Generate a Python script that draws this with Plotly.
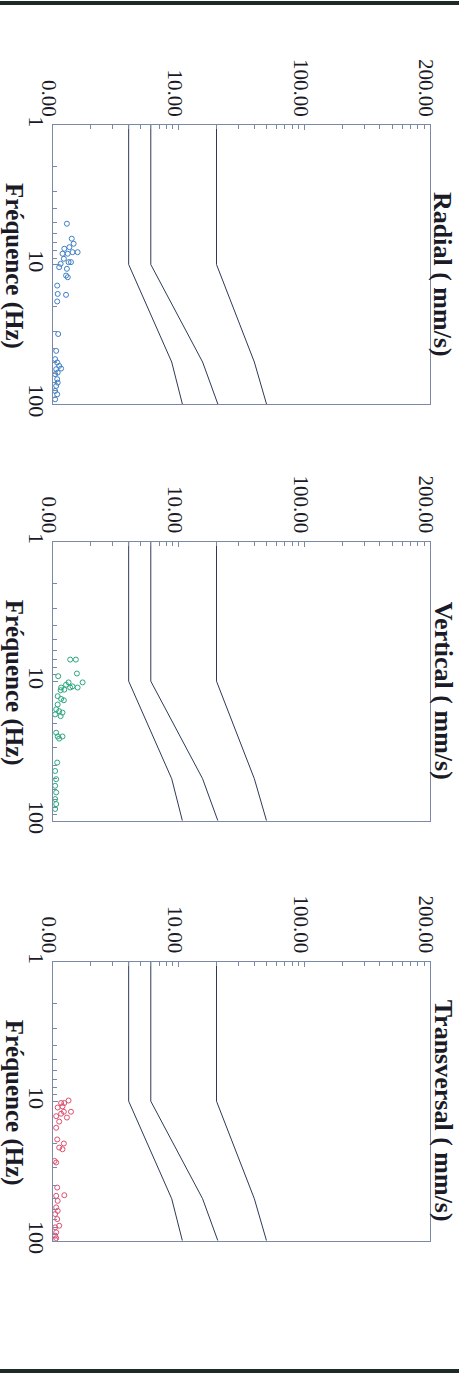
import plotly.graph_objects as go

# ---------------- data ----------------
panel_titles = ["Radial ( mm/s)", "Vertical ( mm/s)", "Transversal ( mm/s)"]
x_label = "Fréquence (Hz)"

vel_tickvals = [1, 10, 100, 1000]
vel_ticktext = ["0.00", "10.00", "100.00", "200.00"]
freq_tickvals = [1, 10, 100]
freq_ticktext = ["1", "10", "100"]

# limit curves (frequency Hz, velocity)
limit_freq = [1, 10, 50, 100]
limit_low = [4, 4, 8.8, 10.7]
limit_mid = [6, 6, 15.5, 20.5]
limit_high = [20, 20, 40, 50]

radial_vel = [1.29, 1.41, 1.46, 1.35, 1.23, 1.57, 1.19, 1.31, 1.43, 1.22, 1.15, 1.33,
              1.39, 1.12, 1.29, 1.27, 1.31, 1.08, 1.09, 1.27, 1.08, 1.10, 1.06, 1.04,
              1.08, 1.12, 1.16, 1.06, 1.09, 1.04, 1.08, 1.09, 1.06, 1.04, 1.08, 1.04]
radial_freq = [5.10, 6.53, 7.10, 7.51, 7.71, 8.16, 8.37, 8.37, 8.16, 9.10, 9.89, 9.62,
               9.62, 10.45, 10.74, 12.0, 12.34, 14.16, 16.25, 16.5, 18.4, 31.5, 41.6, 47.7,
               50.4, 53.3, 55.7, 56.3, 59.5, 61.1, 66.4, 70.3, 74.2, 80.6, 85.2, 92.5]

vertical_vel = [1.37, 1.52, 1.55, 1.10, 1.72, 1.33, 1.27, 1.43, 1.16, 1.37, 1.57, 1.15,
                1.23, 1.09, 1.16, 1.22, 1.09, 1.06, 1.12, 1.19, 1.04, 1.15, 1.06, 1.09,
                1.19, 1.12, 1.08, 1.04, 1.06, 1.04, 1.06, 1.04, 1.06, 1.04]
vertical_freq = [7.0, 7.0, 8.81, 9.21, 10.2, 10.2, 10.6, 10.9, 11.1, 11.1, 11.1, 11.6,
                 11.5, 12.8, 13.4, 13.7, 14.7, 15.9, 16.4, 16.8, 17.3, 17.8, 23.4, 24.9,
                 24.9, 25.8, 38.3, 44.0, 50.4, 56.2, 62.7, 70.0, 76.0, 82.4]

transversal_vel = [1.33, 1.23, 1.16, 1.19, 1.09, 1.39, 1.22, 1.16, 1.06, 1.29, 1.12, 1.06,
                   1.08, 1.22, 1.12, 1.19, 1.03, 1.06, 1.08, 1.23, 1.06, 1.09, 1.06, 1.09,
                   1.04, 1.12, 1.04, 1.06, 1.04, 1.08, 1.06, 1.04]
transversal_freq = [9.89, 10.3, 10.3, 10.9, 11.1, 11.9, 11.9, 12.3, 12.8, 13.1, 14.0, 15.5,
                    18.8, 20.1, 21.5, 22.1, 26.8, 27.5, 41.6, 47.2, 47.7, 51.8, 57.7, 61.1,
                    64.4, 78.1, 80.2, 87.1, 92.0, 70.0, 96.0, 98.0]

point_colors = ["#3f80c4", "#2aa87c", "#dd4f6c"]

# ---------------- layout geometry (pixels) ----------------
W, H = 459, 1376
plot_left, plot_right = 53, 430
panel_tops = [125, 541.7, 961.7]
panel_h = 279

def py(v):
    return 1 - v / H

fig = go.Figure()

series = [(radial_vel, radial_freq), (vertical_vel, vertical_freq),
          (transversal_vel, transversal_freq)]

line_col = "#2c3a58"
axis_col = "#7b88a6"
font_fam = "Liberation Serif"
text_col = "#1b1b28"

for i in range(3):
    xa = "x" if i == 0 else f"x{i+1}"
    ya = "y" if i == 0 else f"y{i+1}"
    for curve in (limit_low, limit_mid, limit_high):
        fig.add_trace(go.Scatter(x=curve, y=limit_freq, mode="lines",
                                 line=dict(color=line_col, width=1),
                                 xaxis=xa, yaxis=ya, showlegend=False, hoverinfo="skip"))
    vx, vy = series[i]
    fig.add_trace(go.Scatter(x=vx, y=vy, mode="markers",
                             marker=dict(symbol="circle-open", size=5,
                                         color=point_colors[i], line=dict(width=1)),
                             xaxis=xa, yaxis=ya, showlegend=False))

    top = panel_tops[i]
    dom_y = [py(top + panel_h), py(top)]
    xkey = "xaxis" if i == 0 else f"xaxis{i+1}"
    ykey = "yaxis" if i == 0 else f"yaxis{i+1}"
    minor_v = [2, 3, 4, 5, 6, 7, 8, 9, 20, 30, 40, 50, 60, 70, 80, 90,
               200, 300, 400, 500, 600, 700, 800, 900]
    fig.update_layout(**{
        xkey: dict(type="log", range=[0, 3], domain=[plot_left / W, plot_right / W],
                   anchor=ya, side="top", tickmode="array",
                   tickvals=vel_tickvals, ticktext=vel_ticktext, tickangle=90,
                   ticks="inside", ticklen=5, tickcolor=axis_col,
                   minor=dict(tickmode="array", tickvals=minor_v, ticks="inside",
                              ticklen=4, tickcolor=axis_col, showgrid=False),
                   showline=True, linecolor=axis_col, linewidth=1, mirror=True,
                   showgrid=False, zeroline=False, automargin=False,
                   tickfont=dict(family=font_fam, size=21, color=text_col),
                   ticklabelstandoff=0, ticklabelshift=-4),
        ykey: dict(type="log", range=[2, 0], domain=dom_y, anchor=xa,
                   tickmode="array", tickvals=freq_tickvals, ticktext=freq_ticktext,
                   tickangle=90, ticks="inside", ticklen=5, tickcolor=axis_col,
                   minor=dict(tickmode="array", tickvals=minor_v[:16], ticks="inside",
                              ticklen=4, tickcolor=axis_col, showgrid=False),
                   showline=True, linecolor=axis_col, linewidth=1, mirror=True,
                   showgrid=False, zeroline=False, automargin=False,
                   tickfont=dict(family=font_fam, size=22, color=text_col),
                   ticklabelstandoff=-3),
    })
    fig.add_annotation(text=f"<b>{panel_titles[i]}</b>", textangle=90,
                       x=443 / W, y=py(top + 149), xref="paper", yref="paper",
                       showarrow=False, xanchor="center", yanchor="middle",
                       font=dict(family=font_fam, size=26, color=text_col))
    fig.add_annotation(text=f"<b>{x_label}</b>", textangle=90,
                       x=14 / W, y=py(top + 141), xref="paper", yref="paper",
                       showarrow=False, xanchor="center", yanchor="middle",
                       font=dict(family=font_fam, size=25, color=text_col))

# page frame lines (top and bottom)
for yy in (3, 1371):
    fig.add_shape(type="line", xref="paper", yref="paper", x0=0, x1=1,
                  y0=py(yy), y1=py(yy), line=dict(color="#1e2a26", width=4))

fig.update_layout(width=W, height=H, margin=dict(l=0, r=0, t=0, b=0),
                  paper_bgcolor="white", plot_bgcolor="white")

fig.write_html("out.html", config={"displayModeBar": False},
               post_script="document.body.style.margin='0';"
                           "document.body.style.overflow='hidden';")
